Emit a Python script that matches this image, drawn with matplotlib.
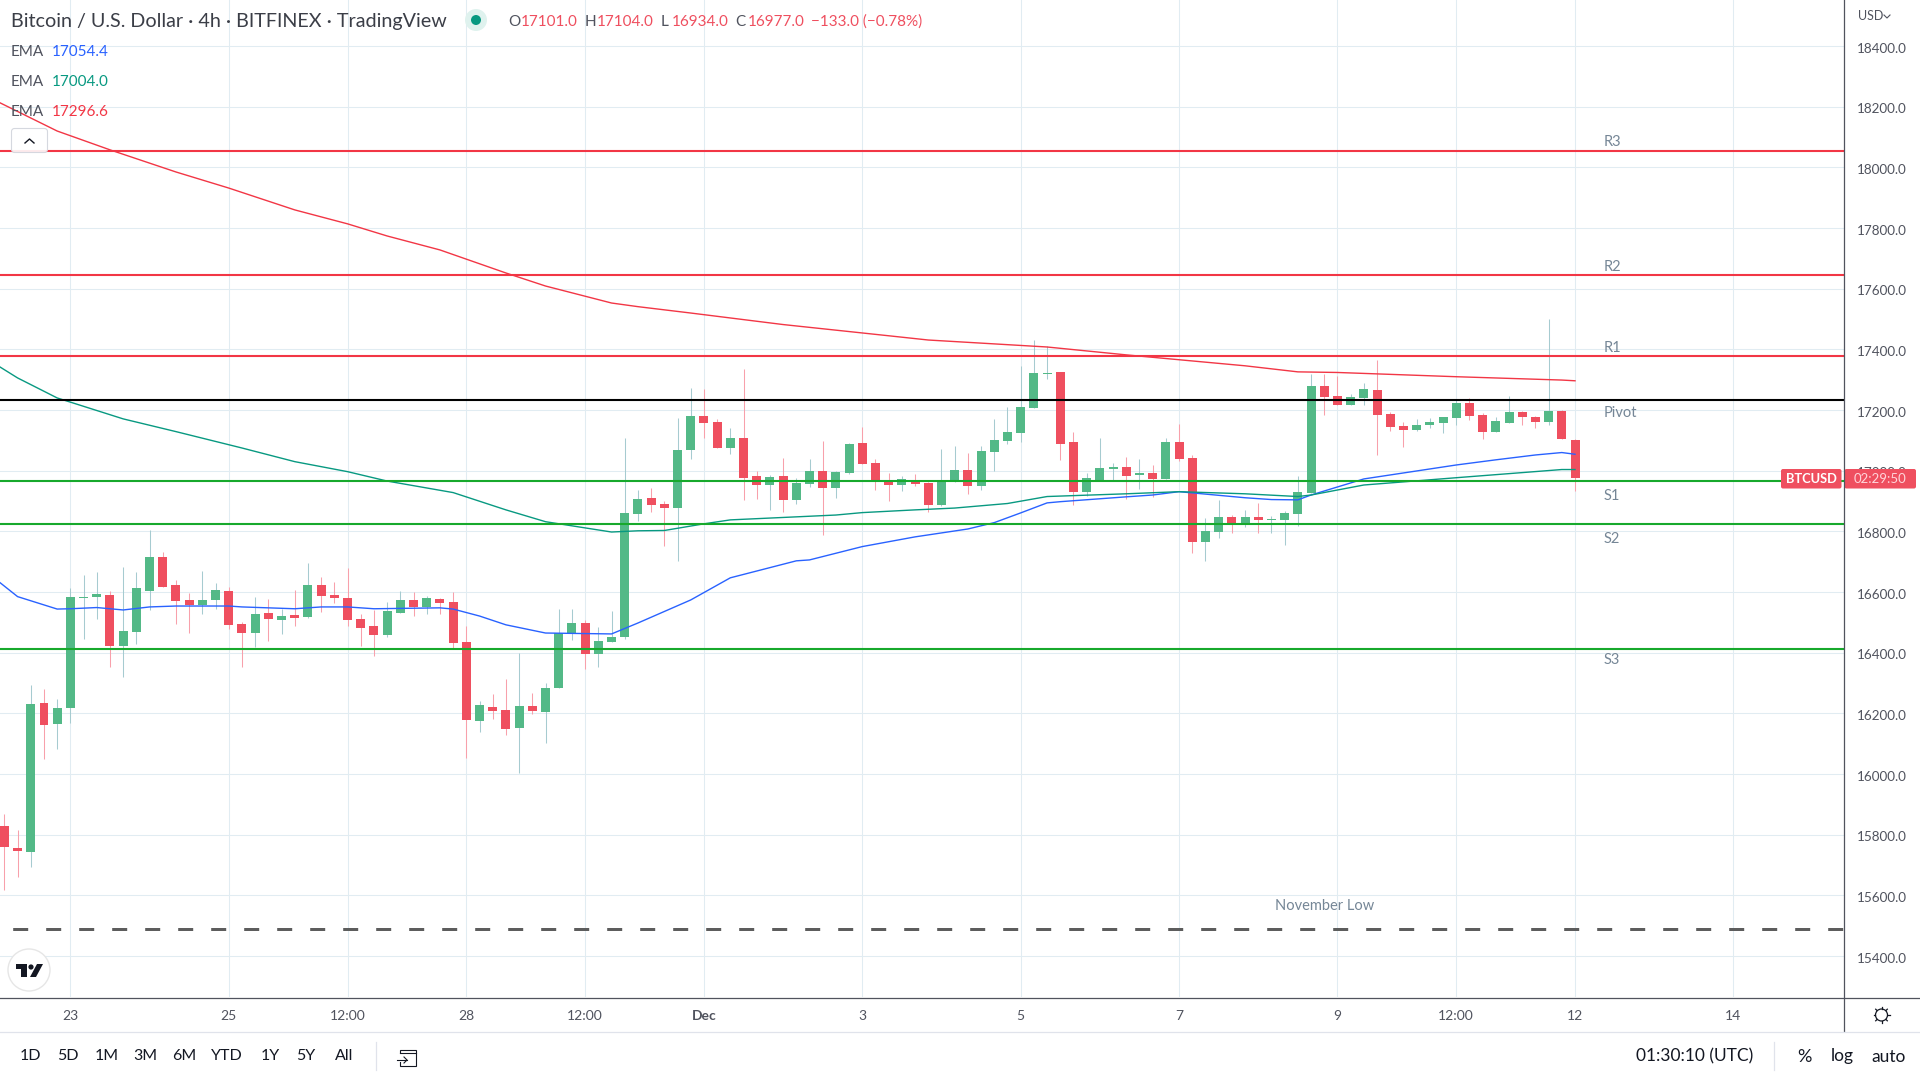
import matplotlib
matplotlib.use('Agg')
import matplotlib.pyplot as plt
from matplotlib.patches import Circle, FancyBboxPatch, Polygon, Rectangle
from matplotlib.transforms import ScaledTranslation

plt.rcParams['font.family'] = ['Lato', 'DejaVu Sans']

# 4h candles
opens = [15829, 15757, 15743, 16235, 16165, 16218, 16581, 16584, 16591, 16423,
         16469, 16604, 16716, 16624, 16574, 16558, 16574, 16604, 16495, 16465,
         16531, 16508, 16525, 16518, 16624, 16591, 16581, 16512, 16489, 16459,
         16531, 16574, 16551, 16578, 16568, 16436, 16175, 16221, 16212, 16152,
         16225, 16205, 16284, 16462, 16498, 16396, 16436, 16452, 16858, 16910,
         16891, 16878, 17069, 17181, 17161, 17075, 17108, 16983, 16953, 16983,
         16904, 16957, 17000, 16943, 16993, 17092, 17026, 16970, 16953, 16967,
         16960, 16887, 16963, 17003, 16950, 17062, 17098, 17125, 17207, 17320,
         17326, 17095, 16930, 16970, 17006, 17013, 16986, 16993, 16973, 17095,
         17042, 16765, 16798, 16848, 16825, 16848, 16838, 16838, 16858, 16927,
         17280, 17247, 17217, 17240, 17267, 17187, 17148, 17135, 17151, 17158,
         17174, 17224, 17184, 17128, 17158, 17194, 17178, 17161, 17197, 17101]
highs = [15869, 15816, 16294, 16281, 16248, 16614, 16657, 16667, 16604, 16683,
         16667, 16805, 16733, 16640, 16597, 16670, 16630, 16617, 16502, 16584,
         16578, 16545, 16607, 16696, 16650, 16634, 16680, 16528, 16541, 16568,
         16604, 16601, 16587, 16581, 16601, 16489, 16241, 16264, 16314, 16400,
         16268, 16301, 16545, 16545, 16508, 16485, 16538, 17108, 16937, 16943,
         16901, 17174, 17273, 17270, 17171, 17141, 17336, 17000, 16986, 17042,
         16976, 17039, 17098, 17000, 17092, 17145, 17039, 16993, 16983, 16990,
         16964, 17072, 17082, 17059, 17082, 17171, 17210, 17346, 17431, 17412,
         17326, 17128, 16993, 17108, 17026, 17046, 17039, 17019, 17108, 17154,
         17052, 16845, 16904, 16854, 16871, 16894, 16851, 16868, 16983, 17319,
         17319, 17313, 17253, 17290, 17365, 17194, 17161, 17171, 17174, 17178,
         17233, 17240, 17191, 17178, 17247, 17197, 17181, 17501, 17200, 17104]
lows = [15619, 15661, 15694, 16050, 16083, 16169, 16446, 16512, 16353, 16320,
        16429, 16541, 16617, 16495, 16465, 16528, 16545, 16479, 16353, 16419,
        16439, 16462, 16489, 16515, 16535, 16564, 16489, 16423, 16390, 16452,
        16531, 16522, 16528, 16528, 16416, 16053, 16139, 16182, 16129, 16004,
        16198, 16103, 16284, 16442, 16347, 16353, 16436, 16446, 16835, 16864,
        16752, 16703, 17039, 17108, 17075, 17056, 16904, 16907, 16871, 16864,
        16891, 16947, 16788, 16910, 16990, 17023, 16937, 16901, 16934, 16950,
        16864, 16884, 16963, 16924, 16937, 16999, 17089, 17095, 17207, 17303,
        17036, 16887, 16917, 16970, 16970, 16907, 16940, 16914, 16973, 17032,
        16729, 16703, 16779, 16795, 16815, 16795, 16795, 16755, 16818, 16927,
        17184, 17217, 17217, 17217, 17052, 17131, 17078, 17131, 17141, 17125,
        17151, 17168, 17105, 17128, 17158, 17151, 17141, 17151, 17105, 16934]
closes = [15760, 15747, 16231, 16162, 16218, 16584, 16584, 16594, 16423, 16472,
          16614, 16716, 16617, 16571, 16558, 16574, 16607, 16492, 16465, 16528,
          16512, 16522, 16515, 16624, 16587, 16581, 16508, 16482, 16459, 16538,
          16574, 16551, 16581, 16564, 16433, 16179, 16228, 16208, 16149, 16225,
          16208, 16284, 16465, 16498, 16396, 16439, 16452, 16861, 16907, 16887,
          16878, 17069, 17181, 17158, 17075, 17108, 16976, 16953, 16980, 16904,
          16960, 17000, 16943, 16996, 17088, 17023, 16970, 16953, 16973, 16957,
          16887, 16963, 17003, 16950, 17065, 17102, 17128, 17210, 17323, 17323,
          17089, 16930, 16976, 17009, 17013, 16983, 16993, 16973, 17095, 17039,
          16765, 16802, 16848, 16828, 16848, 16838, 16841, 16861, 16930, 17280,
          17243, 17217, 17243, 17270, 17184, 17145, 17135, 17151, 17161, 17178,
          17224, 17181, 17128, 17164, 17194, 17178, 17161, 17197, 17105, 16977]

# EMA lines, read at these candle positions
blue_idx = [-0.33, 1, 4, 5, 7, 9, 11, 13, 17, 18, 22, 24, 26, 28, 33, 34, 36, 38, 41, 46,
            48, 52, 55, 60, 61, 65, 69, 73, 75, 77, 79, 80, 85, 87, 89, 94, 96, 98, 99,
            103, 110, 113, 116, 118, 119]
blue_ema = [16631, 16585, 16544, 16545, 16549, 16541, 16551, 16554, 16554, 16551, 16545,
            16551, 16551, 16545, 16548, 16544, 16521, 16492, 16465, 16462, 16498, 16574,
            16647, 16703, 16706, 16750, 16782, 16808, 16829, 16861, 16894, 16898, 16914,
            16920, 16931, 16911, 16905, 16904, 16920, 16973, 17019, 17036, 17052, 17060,
            17054.4]
green_idx = [-0.33, 1, 4, 9, 13, 18, 22, 26, 29, 34, 38, 41, 46, 48, 50, 53, 55, 63, 65, 69,
             72, 76, 79, 85, 89, 94, 98, 99, 103, 110, 118, 119]
green_ema = [17342, 17306, 17240, 17171, 17129, 17075, 17030, 16997, 16966, 16928, 16871,
             16832, 16798, 16802, 16803, 16825, 16838, 16854, 16862, 16871, 16877, 16892,
             16915, 16924, 16931, 16924, 16915, 16920, 16953, 16977, 17004, 17004.0]
red_idx = [-0.33, 4, 8, 13, 17, 22, 26, 29, 33, 38, 41, 46, 48, 52, 59, 67, 70, 79, 85, 94,
           98, 101, 110, 118, 119]
red_ema = [18213, 18120, 18058, 17985, 17932, 17860, 17814, 17774, 17728, 17652, 17609,
           17553, 17541, 17520, 17482, 17445, 17431, 17408, 17382, 17346, 17326, 17324,
           17310, 17299, 17296.6]

# pivot levels
red_levels = [18055, 17644, 17379]
green_levels = [16967, 16825, 16413]
pivot_level = 17234
november_low = 15488
level_names = ['R3', 'R2', 'R1', 'Pivot', 'S1', 'S2', 'S3']
level_label_y = [18085, 17672, 17405, 17192, 16917, 16775, 16376]

# axes ticks
price_ticks = list(range(15400, 18600, 200))
time_ticks = [5, 17, 26, 35, 44, 53, 65, 77, 89, 101, 110, 119, 131]
time_labels = ['23', '25', '12:00', '28', '12:00', 'Dec', '3', '5', '7', '9', '12:00', '12', '14']
range_buttons = ['1D', '5D', '1M', '3M', '6M', 'YTD', '1Y', '5Y', 'All']
range_button_x = [30.6, 68, 106.5, 145, 184, 227, 270, 306, 344]

UP = '#53b987'
DOWN = '#ef4f5f'
UP_WICK = '#a6cbd0'
DOWN_WICK = '#f8a0ab'
GRID = '#e1ecf2'
TEXT = '#131722'
LABEL = '#50535e'
SLATE = '#758696'

fig = plt.figure(figsize=(19.2, 10.8), dpi=100)
ax = fig.add_axes([0, 83 / 1080, 1844 / 1920, 997 / 1080])
ax.set_xlim(-0.333, 139.38)
ax.set_ylim(15265, 18552)

ax.set_yticks(price_ticks)
ax.set_yticklabels([f'{p:.1f}' for p in price_ticks], fontsize=9.7, color=LABEL)
ax.yaxis.tick_right()
ax.tick_params(axis='y', length=0, pad=9)
# nudge the price labels down a little
for lab in ax.get_yticklabels():
    lab.set_transform(lab.get_transform() + ScaledTranslation(0, -0.015, fig.dpi_scale_trans))
ax.set_xticks(time_ticks)
ax.set_xticklabels(time_labels, fontsize=10, color=LABEL)
ax.get_xticklabels()[5].set_fontweight('bold')
ax.tick_params(axis='x', length=0, pad=9)
ax.grid(True, color=GRID, lw=0.75, zorder=0)
ax.set_axisbelow(True)
for s in ax.spines.values():
    s.set_visible(False)

# candles
for i in range(len(opens)):
    up = closes[i] >= opens[i]
    ax.vlines(i, lows[i], highs[i], color=UP_WICK if up else DOWN_WICK, lw=0.75, zorder=2)
    ax.bar(i, abs(closes[i] - opens[i]), bottom=min(opens[i], closes[i]), width=0.68,
           color=UP if up else DOWN, lw=0, zorder=2.5)

ax.plot(blue_idx, blue_ema, color='#2962ff', lw=1.0, zorder=3)
ax.plot(green_idx, green_ema, color='#089981', lw=1.0, zorder=3)
ax.plot(red_idx, red_ema, color='#f23645', lw=1.0, zorder=3)

# levels
for p in red_levels:
    ax.axhline(p, color='#f23645', lw=1.5, zorder=4)
for p in green_levels:
    ax.axhline(p, color='#17a92c', lw=1.5, zorder=4)
ax.axhline(pivot_level, color='black', lw=1.5, zorder=4)
ax.axhline(november_low, color='#5d5d5d', lw=2.16, linestyle=(6.77, (5, 6)), zorder=4)

for name, y in zip(level_names, level_label_y):
    ax.text(121.2, y, name, fontsize=10.5, color=SLATE, va='center', ha='left')
ax.text(100, 15565, 'November Low', fontsize=10.5, color=SLATE, va='center', ha='center')

# everything around the chart sits on an overlay in pixel coordinates
ui = fig.add_axes([0, 0, 1, 1], zorder=5)
ui.set_xlim(0, 1920)
ui.set_ylim(1080, 0)
ui.axis('off')

ui.plot([1843.5, 1843.5], [0, 1031], color=LABEL, lw=0.9)
ui.plot([0, 1920], [997.5, 997.5], color=LABEL, lw=0.9)
ui.plot([0, 1920], [1031.5, 1031.5], color='#e0e3eb', lw=0.9)
ui.plot([375.5, 375.5], [1042, 1070], color='#e0e3eb', lw=0.9)
ui.plot([1774, 1774], [1042, 1070], color='#e0e3eb', lw=0.9)

# header
ui.text(11, 22, 'Bitcoin / U.S. Dollar · 4h · BITFINEX · TradingView', fontsize=14.2, color='#3b3e47', va='center')
ui.add_patch(Circle((476, 20), 11, color='#dff2ee', lw=0))
ui.add_patch(Circle((476, 20), 5, color='#089981', lw=0))
for x, s, c in [(508, 'O', LABEL), (520.5, '17101.0', DOWN), (585, 'H', LABEL), (597, '17104.0', DOWN),
                (661, 'L', LABEL), (672, '16934.0', DOWN), (735, 'C', LABEL), (748, '16977.0', DOWN),
                (811, '−133.0 (−0.78%)', DOWN)]:
    ui.text(x, 22, s, fontsize=11, color=c, va='center')
for y, s, c in [(51.5, '17054.4', '#2962ff'), (81.5, '17004.0', '#089981'), (111.5, '17296.6', '#f23645')]:
    ui.text(11, y, 'EMA', fontsize=11, color=LABEL, va='center')
    ui.text(52, y, s, fontsize=11, color=c, va='center')
ui.add_patch(FancyBboxPatch((11.5, 128.5), 36, 24, boxstyle='round,pad=0,rounding_size=3',
                            facecolor='white', edgecolor='#d1d4dc', lw=0.8, alpha=0.9))
ui.plot([25, 29.5, 34], [143, 139, 143], color=TEXT, lw=1.0)
ui.text(1871, 16, 'USD', fontsize=9, color=LABEL, va='center', ha='center')
ui.plot([1884, 1887, 1890], [15, 18, 15], color=LABEL, lw=0.8)

# logo
ui.add_patch(Circle((29, 970), 21, facecolor='white', edgecolor='#e6e6e6', lw=1))
ui.add_patch(Polygon([(16, 964), (27, 964), (27, 977), (21, 977), (21, 969), (16, 969)], color=TEXT, lw=0))
ui.add_patch(Circle((31, 967), 2.6, color=TEXT, lw=0))
ui.add_patch(Polygon([(37, 964), (43, 964), (36, 977), (30, 977)], color=TEXT, lw=0))

# last price tag
ui.add_patch(FancyBboxPatch((1781, 469), 60.5, 19.5, boxstyle='round,pad=0,rounding_size=2', color=DOWN, lw=0))
ui.add_patch(FancyBboxPatch((1844.5, 469), 71.5, 19.5, boxstyle='round,pad=0,rounding_size=2', color=DOWN, lw=0))
ui.text(1811, 479, 'BTCUSD', fontsize=9.3, color='white', fontweight='bold', va='center', ha='center')
ui.text(1880, 479, '02:29:50', fontsize=9.5, color='#ffd5da', va='center', ha='center')

# bottom toolbar
for x, s in zip(range_button_x, range_buttons):
    ui.text(x, 1056.5, s, fontsize=11.5, color=TEXT, va='center', ha='center')
ui.add_patch(Rectangle((400, 1050), 16, 16, fill=False, edgecolor=TEXT, lw=0.8))
ui.add_patch(Rectangle((398, 1054), 7, 8, color='white', lw=0))
ui.plot([397, 407], [1060, 1060], color=TEXT, lw=0.8)
ui.plot([404, 407, 404], [1057, 1060, 1063], color=TEXT, lw=0.8)
ui.plot([400, 416], [1053, 1053], color=TEXT, lw=0.8)
ui.text(1695, 1056.5, '01:30:10 (UTC)', fontsize=12.5, color=TEXT, va='center', ha='center')
ui.text(1804, 1056.5, '%', fontsize=13, color=TEXT, va='center', ha='center')
ui.text(1842, 1056.5, 'log', fontsize=12.5, color=TEXT, va='center', ha='center')
ui.text(1889, 1056.5, 'auto', fontsize=12.5, color=TEXT, va='center', ha='center')

# gear
ui.add_patch(Circle((1881.5, 1015), 6, fill=False, edgecolor=TEXT, lw=0.9))
for dx, dy in [(0, -8), (0, 8), (-8, 0), (8, 0), (-5.8, -5.8), (5.8, -5.8), (-5.8, 5.8), (5.8, 5.8)]:
    ui.plot([1881.5 + dx * 0.78, 1881.5 + dx], [1015 + dy * 0.78, 1015 + dy], color=TEXT, lw=0.9)

fig.savefig('out.png', dpi=100, facecolor='white')
